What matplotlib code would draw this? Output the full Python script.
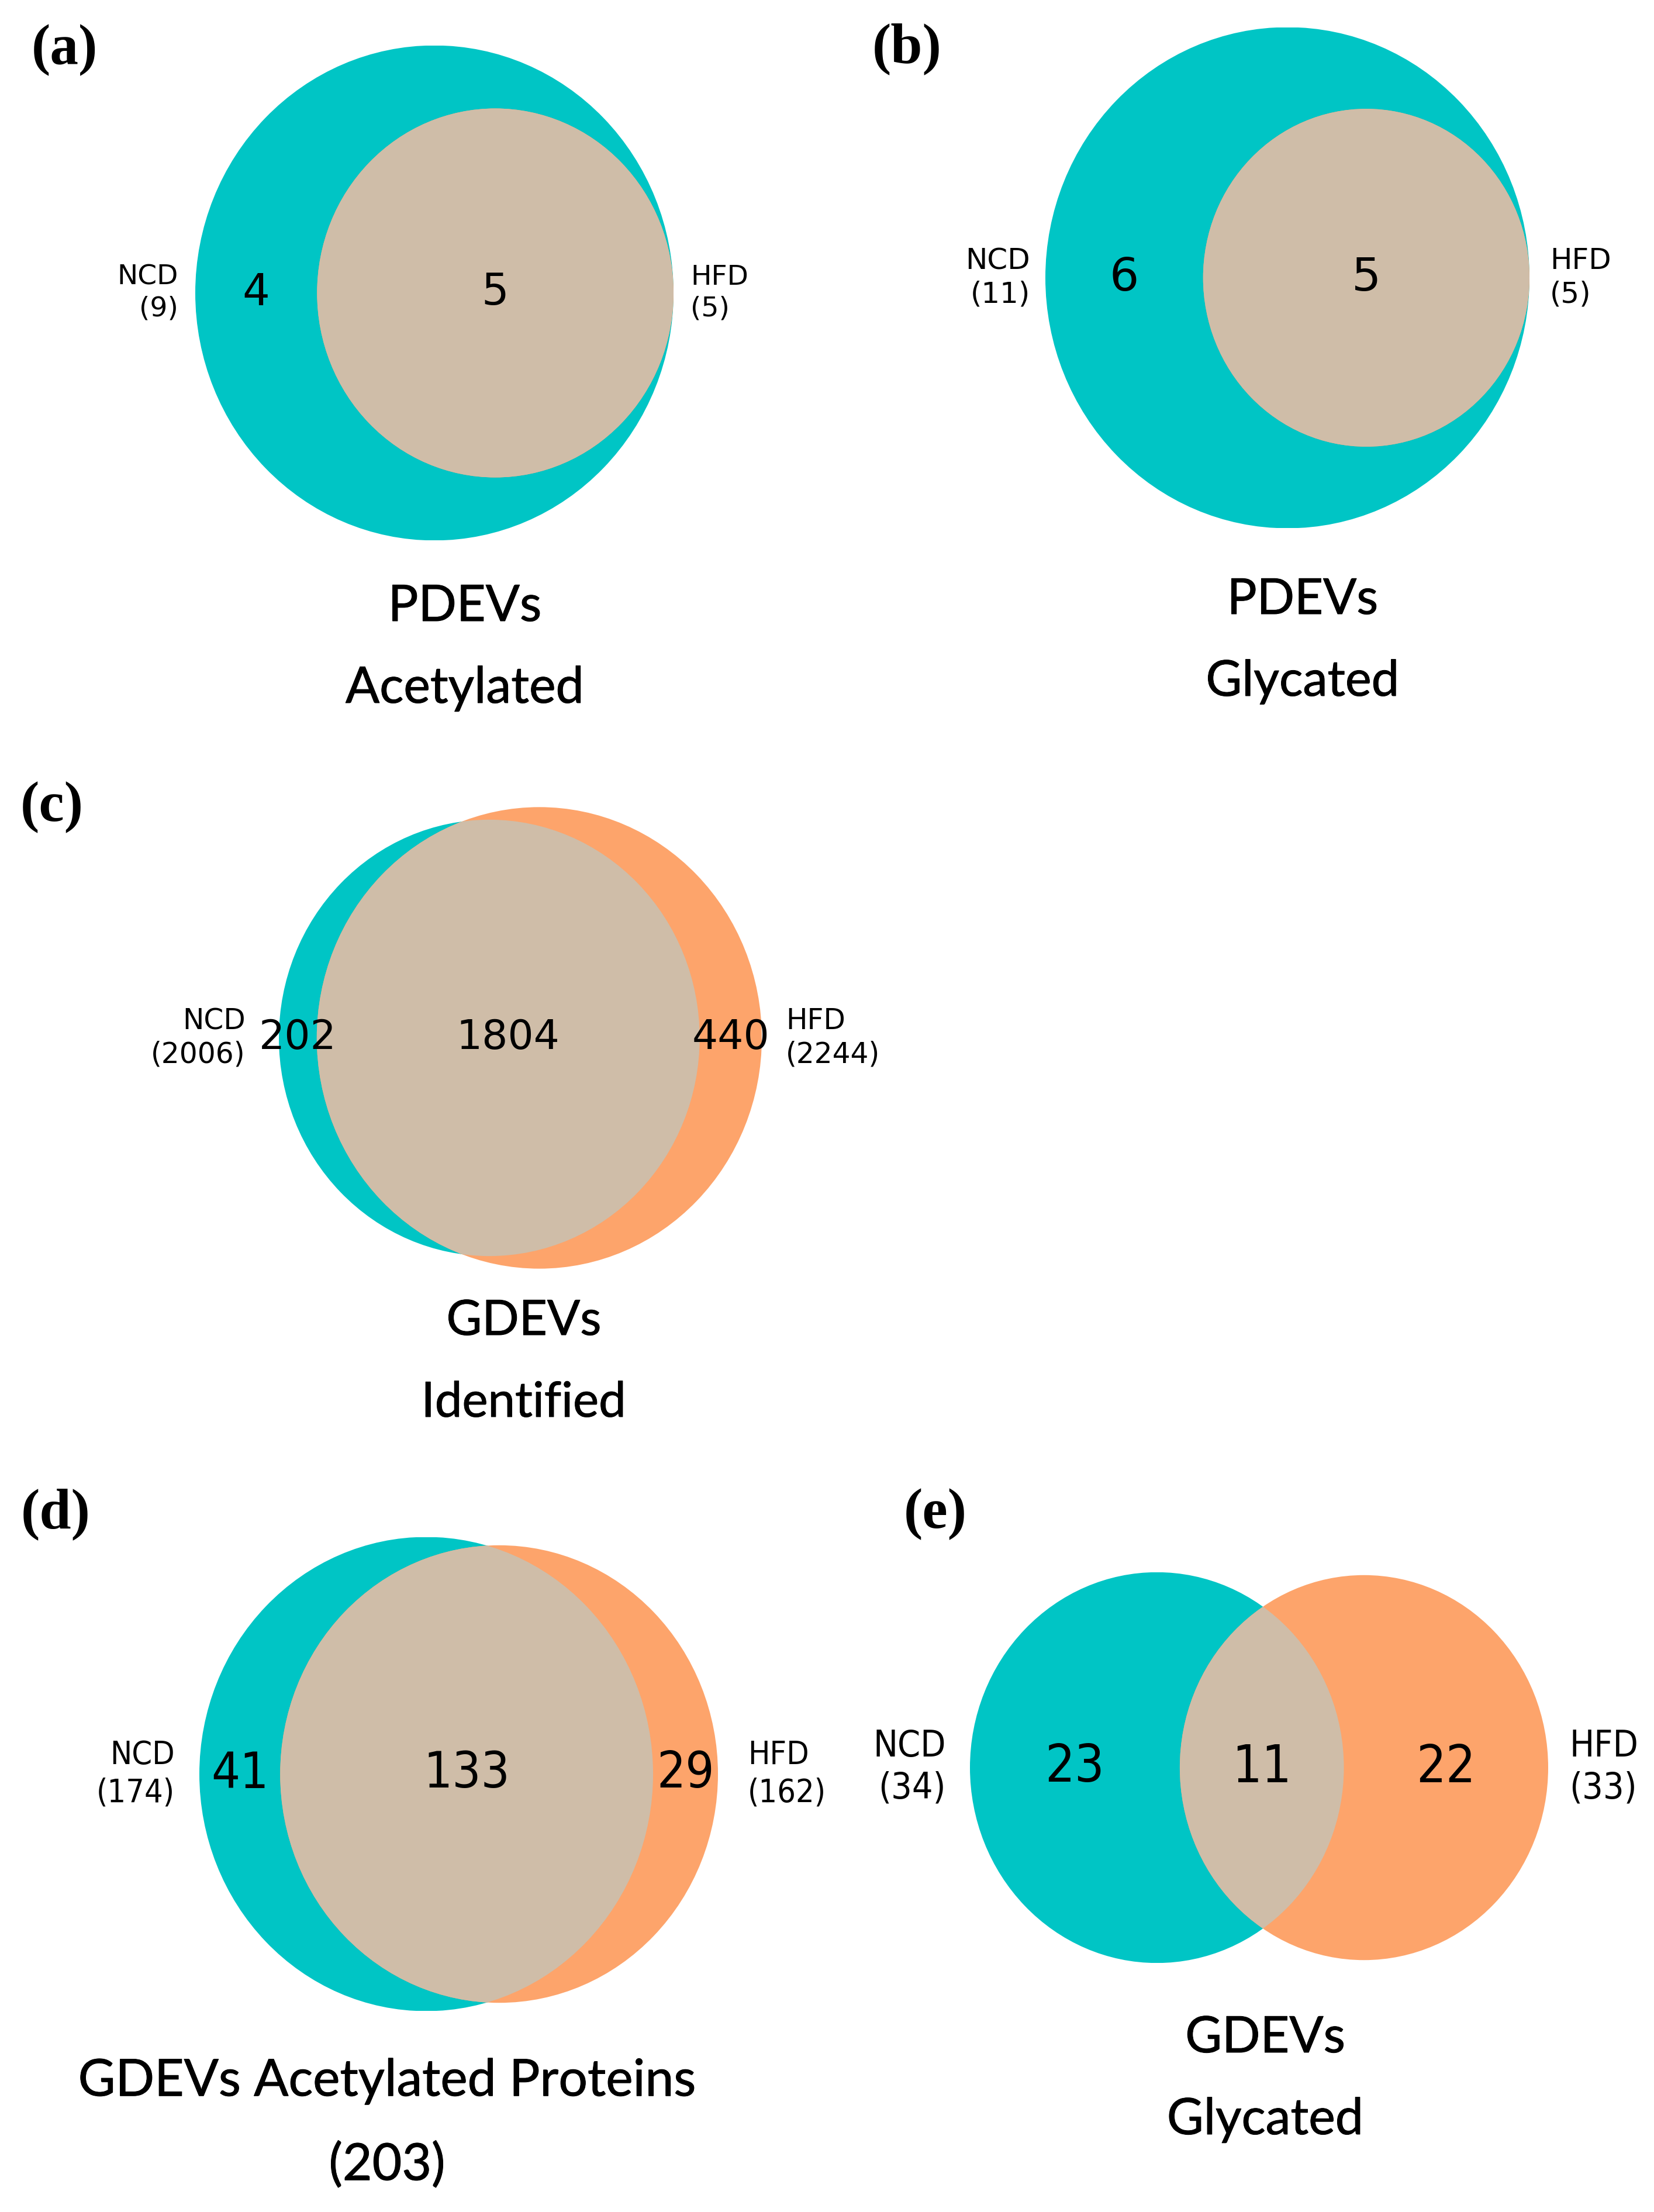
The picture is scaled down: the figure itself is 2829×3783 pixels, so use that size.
import numpy as np
import matplotlib
matplotlib.use("Agg")
import matplotlib.pyplot as plt
from matplotlib.patches import Circle
import matplotlib.patheffects as pe

# ---------------- data ----------------
panel_ids = ["(a)", "(b)", "(c)", "(d)", "(e)"]
set_names = ["NCD", "HFD"]
ncd_totals = [9, 11, 2006, 174, 34]
hfd_totals = [5, 5, 2244, 162, 33]
ncd_only = [4, 6, 202, 41, 23]
shared = [5, 5, 1804, 133, 11]
hfd_only = [0, 0, 440, 29, 22]
titles = [["PDEVs", "Acetylated"],
          ["PDEVs", "Glycated"],
          ["GDEVs", "Identified"],
          ["GDEVs Acetylated Proteins", "(203)"],
          ["GDEVs", "Glycated"]]

# ---------------- style / layout (pixels) ----------------
W, H = 2829, 3783
TEAL = "#00C5C5"
ORANGE = "#FDA46B"
BEIGE = "#CFBDA8"

# union left, union right, circle centre y, vertical stretch
boxes = [(334, 1152, 501, 1.035),
         (1788, 2616, 475, 1.035),
         (477, 1303, 1775, 1.037),
         (341, 1228, 3034, 1.045),
         (1659, 2648, 3023, 1.045)]
label_gaps = [(29, 29), (26, 35), (57, 41), (42, 51), (41, 36)]
num_fs = [53, 57, 50, 62, 64]
lab_fs = [34, 36, 35, 40, 45]
text_stretch = ["normal", "normal", "normal", "condensed", "condensed"]
title_fs = [62, 61, 60, 63, 62]
title_pos = [(795, 1038, 1178), (2228, 1026, 1166), (896, 2260, 2400),
             (662, 3560, 3703), (2164, 3486, 3626)]
tag_pos = [(110, 86), (1551, 84), (89, 1381), (95, 2590), (1600, 2590)]

TITLE_FONT = ["Lato", "DejaVu Sans"]
TAG_FONT = ["Liberation Serif", "DejaVu Serif"]
title_fx = [pe.withStroke(linewidth=0.7, foreground="black")]


def lens_area(r1, r2, d):
    if d >= r1 + r2:
        return 0.0
    if d <= abs(r1 - r2):
        return np.pi * min(r1, r2) ** 2
    a1 = r1 ** 2 * np.arccos((d ** 2 + r1 ** 2 - r2 ** 2) / (2 * d * r1))
    a2 = r2 ** 2 * np.arccos((d ** 2 + r2 ** 2 - r1 ** 2) / (2 * d * r2))
    a3 = 0.5 * np.sqrt((-d + r1 + r2) * (d + r1 - r2) * (d - r1 + r2) * (d + r1 + r2))
    return a1 + a2 - a3


def solve_distance(r1, r2, area):
    lo, hi = abs(r1 - r2), r1 + r2
    if area >= np.pi * min(r1, r2) ** 2 - 1e-9:
        return lo
    for _ in range(200):
        mid = 0.5 * (lo + hi)
        if lens_area(r1, r2, mid) > area:
            lo = mid
        else:
            hi = mid
    return 0.5 * (lo + hi)


fig = plt.figure(figsize=(W / 100, H / 100), dpi=100)
fig.patch.set_facecolor("white")

for i in range(5):
    A, B, AB = ncd_totals[i], hfd_totals[i], shared[i]
    rA, rB = np.sqrt(A / np.pi), np.sqrt(B / np.pi)
    d = solve_distance(rA, rB, AB)
    xA, xB = 0.0, d
    xmin = min(xA - rA, xB - rB)
    xmax = max(xA + rA, xB + rB)
    rmax = max(rA, rB)

    left, right, cy, stretch = boxes[i]
    k = (right - left) / (xmax - xmin)          # px per unit
    hpx = 2 * rmax * k * stretch
    ax = fig.add_axes([left / W, 1 - (cy + hpx / 2) / H,
                       (right - left) / W, hpx / H])
    ax.set_xlim(xmin, xmax)
    ax.set_ylim(-rmax, rmax)
    ax.axis("off")

    cA = Circle((xA, 0), rA, fc=TEAL, ec="none", zorder=1)
    cB = Circle((xB, 0), rB, fc=ORANGE, ec="none", zorder=2)
    cAB = Circle((xB, 0), rB, fc=BEIGE, ec="none", zorder=3)
    for c in (cA, cB, cAB):
        ax.add_patch(c)
    clipA = Circle((xA, 0), rA, transform=ax.transData)
    cAB.set_clip_path(clipA)

    fst = text_stretch[i]
    a_left, a_right = xA - rA, xA + rA
    b_left, b_right = xB - rB, xB + rB
    ax.text((a_left + b_left) / 2, 0, str(ncd_only[i]), ha="center", va="center",
            fontsize=num_fs[i], fontstretch=fst, color="black", zorder=5)
    ax.text((b_left + min(a_right, b_right)) / 2, 0, str(shared[i]), ha="center",
            va="center", fontsize=num_fs[i], fontstretch=fst, color="black", zorder=5)
    if hfd_only[i] > 0:
        ax.text((a_right + b_right) / 2, 0, str(hfd_only[i]), ha="center",
                va="center", fontsize=num_fs[i], fontstretch=fst, color="black",
                zorder=5)

    gl, gr = label_gaps[i]
    ax.text(xmin - gl / k, 0, f"{set_names[0]}\n({A})", ha="right", va="center",
            multialignment="right", fontsize=lab_fs[i], fontstretch=fst,
            linespacing=1.25)
    ax.text(xmax + gr / k, 0, f"{set_names[1]}\n({B})", ha="left", va="center",
            multialignment="left", fontsize=lab_fs[i], fontstretch=fst,
            linespacing=1.25)

    tx, ty1, ty2 = title_pos[i]
    fig.text(tx / W, 1 - ty1 / H, titles[i][0], ha="center", va="center",
             fontsize=title_fs[i], family=TITLE_FONT, path_effects=title_fx)
    fig.text(tx / W, 1 - ty2 / H, titles[i][1], ha="center", va="center",
             fontsize=title_fs[i], family=TITLE_FONT, path_effects=title_fx)

    px, py = tag_pos[i]
    fig.text(px / W, 1 - py / H, panel_ids[i], ha="center", va="center",
             fontsize=70, fontweight="bold", family=TAG_FONT)

fig.savefig("out.png", dpi=100, facecolor="white")
